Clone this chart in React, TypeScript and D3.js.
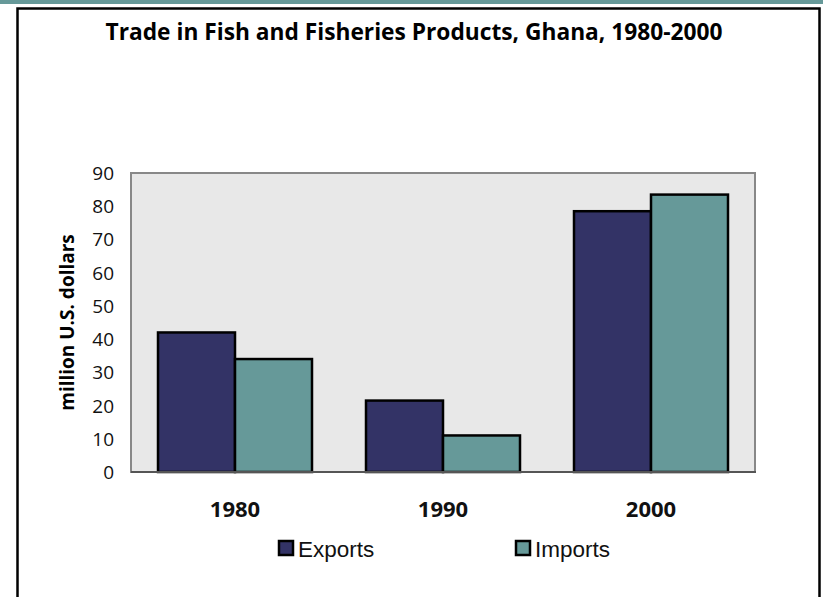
import React from 'react';
import * as d3 from 'd3';

const years = ['1980', '1990', '2000'];
const series = ['Exports', 'Imports'];
const exportsVals = [42, 21.5, 78.5];
const importsVals = [34, 11, 83.5];
const yTicks = [0, 10, 20, 30, 40, 50, 60, 70, 80, 90];
const colors = ['#333366', '#669999'];

export default function App() {
  const W = 823;
  const H = 597;
  const plot = { left: 131, right: 755, top: 173, bottom: 472 };

  const x0 = d3.scaleBand<string>().domain(years).range([plot.left, plot.right]).paddingInner(0).paddingOuter(0);
  const groupPad = 27;
  const x1 = d3.scaleBand<string>()
    .domain(series)
    .range([groupPad, x0.bandwidth() - groupPad]);
  const y = d3.scaleLinear().domain([0, 90]).range([plot.bottom, plot.top]);

  const rows = years.map((yr, i) => ({ year: yr, vals: [exportsVals[i], importsVals[i]] }));

  return (
    <svg width={W} height={H} style={{ position: 'absolute', left: 0, top: 0 }}>
      <rect x={0} y={0} width={W} height={H} fill="#fff" />
      <rect x={0} y={0} width={W} height={4} fill="#669999" />
      {/* frame */}
      <path d={`M17.5,${H + 5} V8.5 H819.5 V${H + 5}`} fill="none" stroke="#000" strokeWidth={2.5} />

      <text x={414} y={40} textAnchor="middle" fontFamily="'Open Sans', sans-serif" fontWeight="bold" fontSize={23}
        textLength={617} lengthAdjust="spacingAndGlyphs">
        Trade in Fish and Fisheries Products, Ghana, 1980-2000
      </text>

      {/* plot area */}
      <rect x={plot.left} y={plot.top} width={plot.right - plot.left} height={plot.bottom - plot.top}
        fill="#e8e8e8" stroke="#888" strokeWidth={2} />

      {yTicks.map(t => (
        <text key={t} x={114} y={y(t) + 7} textAnchor="end" fontFamily="'Open Sans', sans-serif" fontSize={19} fill="#111">
          {t}
        </text>
      ))}

      <text transform={`translate(74,${(plot.top + plot.bottom) / 2}) rotate(-90)`} textAnchor="middle"
        fontFamily="'Open Sans', sans-serif" fontWeight="bold" fontSize={19} fill="#000">
        million U.S. dollars
      </text>

      {rows.map(r => (
        <g key={r.year} transform={`translate(${x0(r.year)},0)`}>
          {r.vals.map((v, j) => (
            <rect key={j} x={x1(series[j])} y={y(v)} width={x1.bandwidth()} height={y(0) - y(v)}
              fill={colors[j]} stroke="#000" strokeWidth={2.5} />
          ))}
        </g>
      ))}

      <line x1={plot.left} x2={plot.right + 1} y1={plot.bottom} y2={plot.bottom} stroke="#555" strokeWidth={2} />

      {years.map(yr => (
        <text key={yr} x={x0(yr)! + x0.bandwidth() / 2} y={517} textAnchor="middle"
          fontFamily="'Open Sans', sans-serif" fontWeight="bold" fontSize={22} fill="#111">
          {yr}
        </text>
      ))}

      {series.map((s, i) => {
        const lx = [278, 515][i];
        return (
          <g key={s}>
            <rect x={lx + 1} y={541} width={14} height={14} fill={colors[i]} stroke="#000" strokeWidth={2.5} />
            <text x={lx + 20} y={557} fontFamily="'Liberation Sans', Arial, sans-serif" fontSize={22.5} fill="#111">
              {s}
            </text>
          </g>
        );
      })}
    </svg>
  );
}
